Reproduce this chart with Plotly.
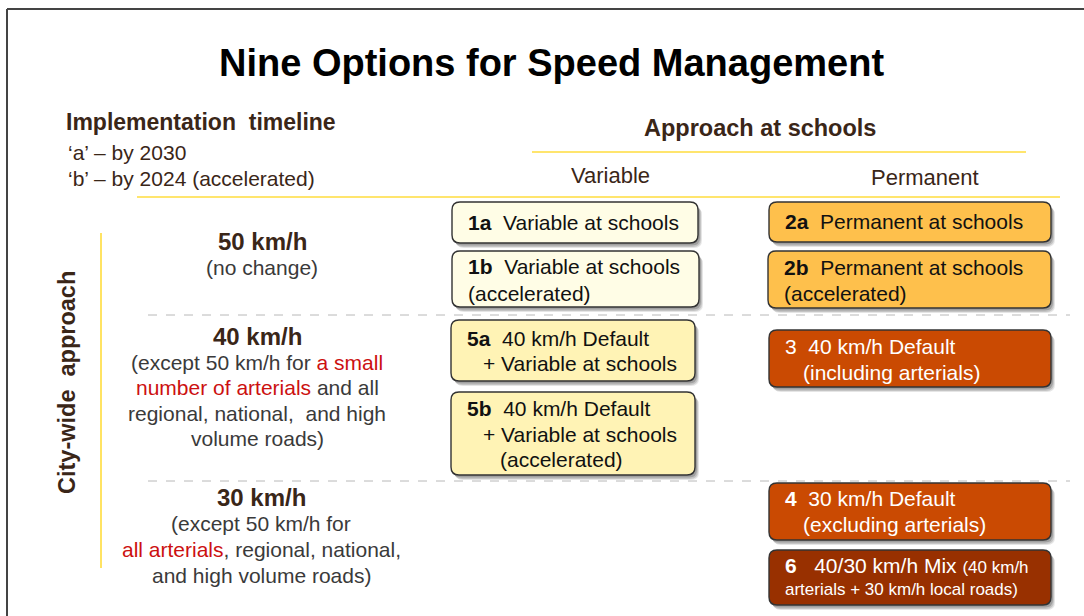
import plotly.graph_objects as go

# ---------------- content ----------------
TITLE = "Nine Options for Speed Management"
TIMELINE_HEAD = "Implementation\u00a0\u00a0timeline"
TIMELINE_LINES = ["\u2018a\u2019 \u2013 by 2030", "\u2018b\u2019 \u2013 by 2024 (accelerated)"]
SCHOOL_HEAD = "Approach at schools"
SCHOOL_COLS = ["Variable", "Permanent"]
CITY_HEAD = "City-wide\u00a0\u00a0approach"

RED = "#cc1010"
def red(s):
    return f'<span style="color:{RED}">{s}</span>'

ROW_HEADS = ["50 km/h", "40 km/h", "30 km/h"]
ROW_LINES = [
    ["(no change)"],
    [f"(except 50 km/h for {red('a small')}",
     f"{red('number of arterials')} and all",
     "regional, national,  and high",
     "volume roads)"],
    ["(except 50 km/h for",
     f"{red('all arterials')}, regional, national,",
     "and high volume roads)"],
]

OPTION_CODES = ["1a", "1b", "5a", "5b", "2a", "2b", "3", "4", "6"]
OPTION_LINES = [
    ["Variable at schools"],
    ["Variable at schools", "(accelerated)"],
    ["40 km/h Default", "+ Variable at schools"],
    ["40 km/h Default", "+ Variable at schools", "(accelerated)"],
    ["Permanent at schools"],
    ["Permanent at schools", "(accelerated)"],
    ["40 km/h Default", "(including arterials)"],
    ["30 km/h Default", "(excluding arterials)"],
    ['40/30 km/h Mix <span style="font-size:17px">(40 km/h</span>',
     '<span style="font-size:17px">arterials + 30 km/h local roads)</span>'],
]

# ---------------- layout / styles ----------------
FONT = "Liberation Sans, Arial, sans-serif"
DARK = "#3a2618"
BODY = "#3a3a3a"
YELLOW = "#ffdc3c"

BOX_GEOM = {
    "1a": (452, 202, 698, 243), "1b": (452, 251, 699, 307),
    "5a": (451, 320, 695, 381), "5b": (451, 392, 695, 475),
    "2a": (769, 202, 1051, 242), "2b": (768, 251, 1051, 308),
    "3": (769, 330, 1051, 387), "4": (769, 483, 1051, 540),
    "6": (769, 550, 1051, 605),
}
BOX_FILL = {"1a": "#fffde6", "1b": "#fffde6", "5a": "#fff3b5", "5b": "#fff3b5",
            "2a": "#fec04c", "2b": "#fec04c", "3": "#ca4a02", "4": "#ca4a02", "6": "#983000"}
BOX_TXT = {k: ("#ffffff" if k in ("3", "4", "6") else "#111111") for k in BOX_FILL}
LINE_INDENT = {"1a": [0], "1b": [0, 0], "5a": [0, 16], "5b": [0, 16, 33],
               "2a": [0], "2b": [0, 0], "3": [0, 18], "4": [0, 18], "6": [0, 0]}
LINE_Y = {"1a": [222], "1b": [266, 293], "5a": [338, 363], "5b": [408, 434, 459],
          "2a": [221], "2b": [267, 293], "3": [346, 372], "4": [498, 524], "6": [565, 589]}

fig = go.Figure()
fig.add_trace(go.Scatter(x=[0, 1084], y=[0, 616], mode="markers",
                         marker=dict(opacity=0), hoverinfo="skip", showlegend=False))

shapes = []
annots = []

def ann(x, y, text, size, color, anchor="left", angle=0):
    annots.append(dict(x=x, y=y, xref="x", yref="y", text=text, showarrow=False,
                       xanchor=anchor, yanchor="middle", textangle=angle,
                       font=dict(family=FONT, size=size, color=color)))

def rrect(x0, y0, x1, y1, r=8):
    return (f"M {x0+r},{y0} L {x1-r},{y0} Q {x1},{y0} {x1},{y0+r} "
            f"L {x1},{y1-r} Q {x1},{y1} {x1-r},{y1} L {x0+r},{y1} "
            f"Q {x0},{y1} {x0},{y1-r} L {x0},{y0+r} Q {x0},{y0} {x0+r},{y0} Z")

# frame
shapes.append(dict(type="line", x0=7, y0=9, x1=1084, y1=9, line=dict(color="#444444", width=2)))
shapes.append(dict(type="line", x0=7, y0=9, x1=7, y1=616, line=dict(color="#444444", width=2)))

# yellow rules
shapes.append(dict(type="line", x0=532, y0=152, x1=1026, y1=152, line=dict(color=YELLOW, width=1.6)))
shapes.append(dict(type="line", x0=137, y0=197, x1=1060, y1=197, line=dict(color=YELLOW, width=1.6)))
shapes.append(dict(type="line", x0=101, y0=233, x1=101, y1=568, line=dict(color=YELLOW, width=1.6)))
# dashed separators
for yy in (315, 481):
    shapes.append(dict(type="line", x0=148, y0=yy, x1=1070, y1=yy,
                       line=dict(color="#b8b8b8", width=1, dash="dash")))

# boxes
for code, lines in zip(OPTION_CODES, OPTION_LINES):
    x0, y0, x1, y1 = BOX_GEOM[code]
    for dx, dy, op in ((4, 5, 0.10), (3, 4, 0.14), (2, 2.5, 0.18)):
        shapes.append(dict(type="path", path=rrect(x0 + dx, y0 + dy, x1 + dx, y1 + dy),
                           fillcolor=f"rgba(0,0,0,{op})", line=dict(width=0), layer="below"))
    shapes.append(dict(type="path", path=rrect(x0, y0, x1, y1), fillcolor=BOX_FILL[code],
                       line=dict(color="#333333", width=1.4), layer="below"))
    for i, (txt, ind, yy) in enumerate(zip(lines, LINE_INDENT[code], LINE_Y[code])):
        if i == 0:
            lab = code if code == "3" else f"<b>{code}</b>"
            gap = "\u00a0\u00a0\u00a0" if code == "6" else "\u00a0\u00a0"
            txt = f"{lab}{gap}{txt}"
        ann(x0 + 14 + ind, yy, txt, 21, BOX_TXT[code])

# headings
ann(551, 63, f"<b>{TITLE}</b>", 38, "#000000", "center")
ann(64, 122, f"<b>{TIMELINE_HEAD}</b>", 23, DARK)
ann(66, 152, TIMELINE_LINES[0], 21, DARK)
ann(66, 178, TIMELINE_LINES[1], 21, DARK)
ann(760, 128, f"<b>{SCHOOL_HEAD}</b>", 23.5, DARK, "center")
ann(610, 175, SCHOOL_COLS[0], 22, DARK, "center")
ann(925, 177, SCHOOL_COLS[1], 22, DARK, "center")
ann(67, 383, f"<b>{CITY_HEAD}</b>", 23.5, DARK, "center", -90)

# row labels
ROW_HEAD_Y = [241, 336, 497]
ROW_LINE_Y = [[267], [362, 387, 413, 438], [523, 549, 575]]
ROW_X = [262, 257, 261]
for head, lines, hy, ly, rx in zip(ROW_HEADS, ROW_LINES, ROW_HEAD_Y, ROW_LINE_Y, ROW_X):
    ann(rx, hy, f"<b>{head}</b>", 24, DARK, "center")
    for txt, yy in zip(lines, ly):
        ann(rx, yy, txt, 21, BODY, "center")

fig.update_layout(
    width=1084, height=616, autosize=False,
    margin=dict(l=0, r=0, t=0, b=0),
    paper_bgcolor="white", plot_bgcolor="white",
    xaxis=dict(range=[0, 1084], visible=False, fixedrange=True),
    yaxis=dict(range=[616, 0], visible=False, fixedrange=True),
    shapes=shapes, annotations=annots, showlegend=False,
)
fig.write_html("out.html", config={"displayModeBar": False},
               post_script="document.body.style.margin='0';document.body.style.overflow='hidden';")
